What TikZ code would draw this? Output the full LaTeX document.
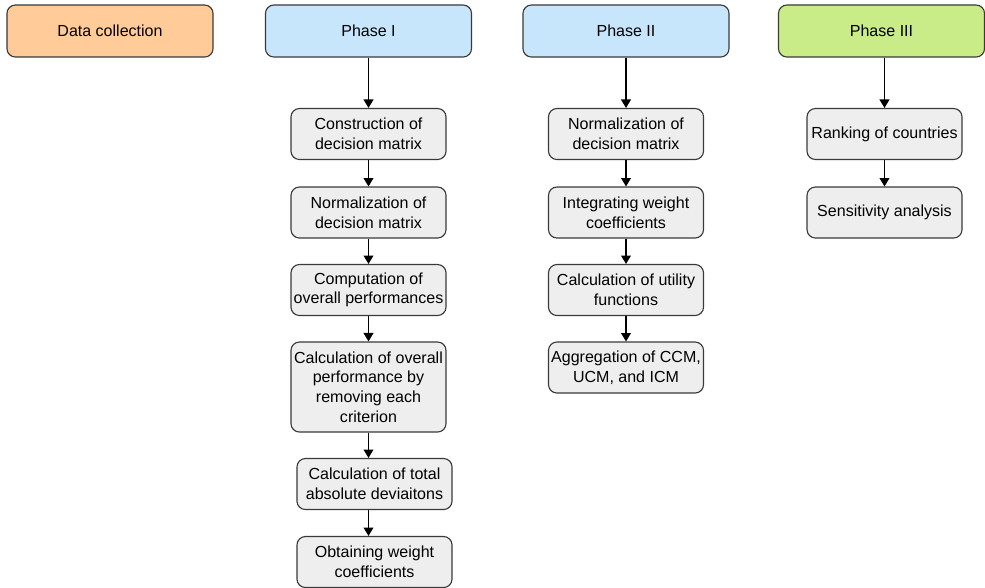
\documentclass[tikz,border=0pt]{standalone}
\usepackage{fontspec}
\setmainfont{Liberation Sans}
\usetikzlibrary{arrows.meta}
\definecolor{dataorange}{HTML}{FFCC99}
\definecolor{phaseblue}{HTML}{C7E6FB}
\definecolor{phasegreen}{HTML}{C9EC88}
\definecolor{stagegray}{HTML}{EEEEEE}
\definecolor{edgegray}{HTML}{3A3A3A}

\begin{document}
\begin{tikzpicture}[x=0.025cm, y=-0.025cm,
    every node/.style={font=\fontsize{11.4}{14}\selectfont},
    head/.style={draw=edgegray, rounded corners=6pt, line width=0.8pt,
        minimum width=5.15cm, minimum height=1.3cm, align=center},
    stage/.style={draw=edgegray, fill=stagegray, rounded corners=6pt, line width=0.8pt,
        minimum width=3.875cm, minimum height=1.275cm, align=center, inner sep=1pt},
    flow/.style={-{Triangle[length=6pt,width=7pt]}, line width=0.9pt}]
    \useasboundingbox (0,0) rectangle (985,587);
    % headers
    \node[head, fill=dataorange] (data) at (110,31) {Data collection};
    \node[head, fill=phaseblue] (p1h) at (368.5,31) {Phase I};
    \node[head, fill=phaseblue] (p2h) at (626,31) {Phase II};
    \node[head, fill=phasegreen] (p3h) at (881.5,31) {Phase III};
    % phase I
    \node[stage] (p1a) at (368.5,134) {Construction of\\decision matrix};
    \node[stage] (p1b) at (368.5,212.5) {Normalization of\\decision matrix};
    \node[stage] (p1c) at (368.5,290) {Computation of\\overall performances};
    \node[stage, minimum height=2.25cm] (p1d) at (368.5,387) {Calculation of overall\\performance by\\removing each\\criterion};
    \node[stage] (p1e) at (374.5,484) {Calculation of total\\absolute deviaitons};
    \node[stage] (p1f) at (374.5,562) {Obtaining weight\\coefficients};
    % phase II
    \node[stage] (p2a) at (626,134) {Normalization of\\decision matrix};
    \node[stage] (p2b) at (626,212.5) {Integrating weight\\coefficients};
    \node[stage] (p2c) at (626,290) {Calculation of utility\\functions};
    \node[stage] (p2d) at (626,367.5) {Aggregation of CCM,\\UCM, and ICM};
    % phase III
    \node[stage] (p3a) at (884.5,134) {Ranking of countries};
    \node[stage] (p3b) at (884.5,212.5) {Sensitivity analysis};
    % arrows
    \draw[flow] (p1h.south -| p1a.north) -- (p1a.north);
    \draw[flow] (p1a) -- (p1b);
    \draw[flow] (p1b) -- (p1c);
    \draw[flow] (p1c) -- (p1d);
    \draw[flow] (p1d.south) -- (p1d.south |- p1e.north);
    \draw[flow] (p1d.south |- p1e.south) -- (p1d.south |- p1f.north);
    \draw[flow] (p2h) -- (p2a);
    \draw[flow] (p2a) -- (p2b);
    \draw[flow] (p2b) -- (p2c);
    \draw[flow] (p2c) -- (p2d);
    \draw[flow] (p3h.south -| p3a.north) -- (p3a.north);
    \draw[flow] (p3a) -- (p3b);
\end{tikzpicture}
\end{document}
